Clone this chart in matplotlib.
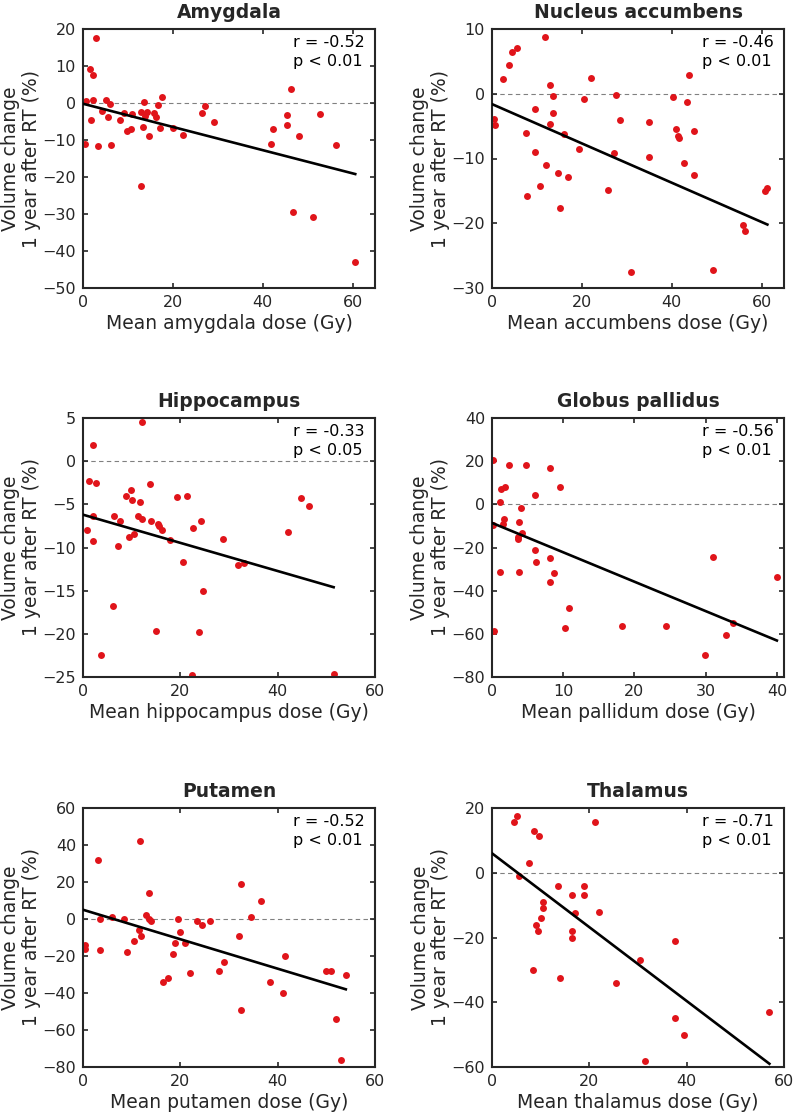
import matplotlib
matplotlib.use("Agg")
import matplotlib.pyplot as plt
import numpy as np

plt.rcParams['font.family'] = ['DejaVu Sans']

# panel titles and x labels
titles = ["Amygdala", "Nucleus accumbens", "Hippocampus",
          "Globus pallidus", "Putamen", "Thalamus"]
xlabels = ["Mean amygdala dose (Gy)", "Mean accumbens dose (Gy)",
           "Mean hippocampus dose (Gy)", "Mean pallidum dose (Gy)",
           "Mean putamen dose (Gy)", "Mean thalamus dose (Gy)"]
stats_r = ["-0.52", "-0.46", "-0.33", "-0.56", "-0.52", "-0.71"]
stats_p = ["0.01", "0.01", "0.05", "0.01", "0.01", "0.01"]

# Amygdala
amyg_dose = [2.8, 1.5, 2.2, 0.7, 2.3, 0.4, 1.8, 3.4, 4.3, 5.2, 5.6, 6.0, 6.3,
             8.3, 9.2, 10.8, 9.8, 10.6, 12.8, 12.8, 13.6, 13.7, 14.2, 13.3,
             14.6, 15.7, 16.2, 16.7, 17.6, 17.1, 20.1, 22.3, 26.6, 27.1, 29.2,
             41.8, 42.4, 45.3, 45.3, 46.4, 46.8, 48.0, 51.3, 52.8, 56.3, 60.6]
amyg_change = [17.6, 9.3, 7.5, 0.6, 0.7, -11.2, -4.7, -11.6, -2.2, 0.7, -3.9,
               -0.3, -11.4, -4.5, -2.8, -3.1, -7.5, -6.9, -22.3, -2.4, 0.2,
               -3.4, -2.5, -6.4, -8.9, -2.7, -3.9, -0.6, 1.6, -6.8, -6.8, -8.7,
               -2.7, -0.8, -5.0, -11.2, -7.0, -5.9, -3.3, 3.8, -29.5, -8.9,
               -30.8, -3.1, -11.3, -43.1]

# Nucleus accumbens
accu_dose = [0.45, 0.6, 2.5, 3.7, 4.5, 5.5, 7.5, 7.9, 9.5, 9.6, 10.7, 11.8,
             12.0, 12.8, 13.0, 13.5, 13.6, 14.6, 15.1, 16.1, 17.0, 19.3, 20.4,
             22.1, 25.8, 27.1, 27.7, 28.6, 30.9, 35.0, 35.0, 40.3, 40.9, 41.3,
             41.7, 42.7, 43.3, 43.9, 44.9, 45.0, 49.1, 55.8, 56.4, 60.7, 61.3]
accu_change = [-3.9, -4.9, 2.3, 4.4, 6.4, 7.0, -6.1, -15.8, -9.0, -2.4, -14.2,
               8.8, -11.0, -4.6, 1.4, -0.3, -3.0, -12.3, -17.7, -6.2, -12.8,
               -8.5, -0.8, 2.4, -14.8, -9.1, -0.2, -4.1, -27.6, -4.4, -9.8,
               -0.5, -5.4, -6.5, -6.9, -10.7, -1.3, 2.9, -5.7, -12.6, -27.2,
               -20.2, -21.2, -15.0, -14.6]

# Hippocampus
hipp_dose = [12.2, 2.1, 1.3, 2.7, 0.8, 2.1, 2.0, 6.3, 7.1, 7.7, 8.8, 9.9, 10.1,
             9.4, 10.4, 11.7, 11.3, 12.2, 13.7, 14.0, 15.4, 15.7, 16.2, 17.9,
             19.4, 21.4, 22.7, 24.3, 20.5, 28.7, 31.8, 33.0, 42.2, 44.7, 46.5,
             6.1, 24.7, 3.6, 15.1, 23.9, 22.4, 51.5]
hipp_change = [4.5, 1.9, -2.3, -2.5, -8.0, -6.4, -9.2, -6.4, -9.8, -6.9, -4.0,
               -3.3, -4.5, -8.8, -8.4, -4.7, -6.4, -6.7, -2.7, -6.9, -7.3, -7.5,
               -8.0, -9.1, -4.2, -4.0, -7.7, -6.9, -11.7, -9.0, -12.0, -11.8,
               -8.2, -4.3, -5.2, -16.8, -15.0, -22.4, -19.7, -19.8, -24.8,
               -24.6]

# Globus pallidus
pall_dose = [0.1, 2.4, 4.8, 8.1, 1.2, 1.8, 9.6, 6.0, 1.1, 4.1, 1.7, 1.6, 3.8,
             0.1, 4.2, 3.7, 3.6, 6.1, 6.2, 8.2, 31.1, 1.1, 3.8, 8.7, 40.0,
             0.3, 8.1, 10.8, 10.2, 18.2, 24.4, 29.9, 32.9, 33.9]
pall_change = [20.6, 18.2, 18.2, 16.8, 7.1, 7.8, 8.0, 4.5, 1.2, -1.5, -6.9,
               -8.9, -8.0, -9.5, -13.5, -15.1, -16.2, -21.2, -26.6, -24.8,
               -24.6, -31.2, -31.2, -31.8, -33.6, -58.9, -36.2, -48.1, -57.4,
               -56.2, -56.6, -70.0, -60.5, -55.2]

# Putamen
puta_dose = [0.5, 0.5, 3.0, 3.5, 3.5, 6.0, 8.5, 9.0, 10.5, 11.7, 11.5, 12.0,
             13.0, 13.5, 13.5, 14.0, 16.5, 17.5, 18.5, 19.0, 19.5, 20.0, 21.0,
             22.0, 23.5, 24.5, 26.0, 28.0, 29.0, 32.0, 32.5, 32.5, 34.5, 36.5,
             38.5, 41.0, 41.5, 50.0, 51.0, 52.0, 53.0, 54.0]
puta_change = [-14, -16, 32, 0, -17, 1, 0, -18, -12, 42.2, -6, -9, 2, 14, 0,
               -1, -34, -32, -19, -13, 0, -7, -13, -29, -1, -3, -1, -28, -23,
               -9, 19, -49, 1, 10, -34, -40, -20, -28, -28, -54, -76, -30]

# Thalamus
thal_dose = [4.6, 5.2, 5.5, 7.5, 8.7, 9.7, 8.5, 9.0, 9.5, 10.0, 10.5, 10.5,
             13.5, 14.0, 16.5, 17.0, 16.5, 16.5, 19.0, 19.0, 21.1, 22.0, 25.5,
             30.5, 31.5, 37.5, 37.5, 39.5, 57.0]
thal_change = [15.6, 17.5, -1, 3, 12.8, 11.2, -30, -16, -18, -14, -11, -9, -4,
               -32.5, -7, -12.5, -18, -20, -4, -7, 15.7, -12, -34, -27, -58,
               -45, -21, -50, -43]

# regression line values at dose 0 and at the highest dose
fit_start = [-0.2, -1.6, -6.2, -8.6, 5.0, 6.0]
fit_end = [-19.2, -20.2, -14.6, -63.1, -38.0, -59.0]

doses = [amyg_dose, accu_dose, hipp_dose, pall_dose, puta_dose, thal_dose]
changes = [amyg_change, accu_change, hipp_change, pall_change, puta_change,
           thal_change]
xlims = [(0, 65), (0, 65), (0, 60), (0, 41), (0, 60), (0, 60)]
xticks = [[0, 20, 40, 60], [0, 20, 40, 60], [0, 20, 40, 60],
          [0, 10, 20, 30, 40], [0, 20, 40, 60], [0, 20, 40, 60]]
ylims = [(-50, 20), (-30, 10), (-25, 5), (-80, 40), (-80, 60), (-60, 20)]
ysteps = [10, 10, 5, 20, 20, 20]

ink = '#262626'
red = '#e0141a'

fig = plt.figure(figsize=(7.94, 11.17), dpi=100)
lefts = [83 / 794, 492 / 794]
bottoms = [1 - 288 / 1117, 1 - 677 / 1117, 1 - 1067 / 1117]
w, h = 292 / 794, 259 / 1117

for i in range(6):
    ax = fig.add_axes([lefts[i % 2], bottoms[i // 2], w, h])
    x = np.array(doses[i])
    y = np.array(changes[i])
    ax.axhline(0, color='#808080', lw=0.8, ls=(0, (4, 3)), zorder=1)
    ax.plot(x, y, 'o', color=red, ms=5, mec='none', zorder=2)
    ax.plot([0, x.max()], [fit_start[i], fit_end[i]], color='black', lw=1.9,
            zorder=3)
    ax.set_xlim(*xlims[i])
    ax.set_ylim(*ylims[i])
    ax.set_xticks(xticks[i])
    ax.set_yticks(np.arange(ylims[i][0], ylims[i][1] + 1, ysteps[i]))
    ax.tick_params(direction='in', length=3.5, width=1.2, top=True, right=True,
                   labelsize=11.5, colors=ink, pad=5)
    for s in ax.spines.values():
        s.set_linewidth(1.5)
        s.set_color(ink)
    ax.set_title(titles[i], fontsize=13.5, fontweight='bold', color=ink, pad=8)
    ax.set_xlabel(xlabels[i], fontsize=13.5, color=ink, labelpad=3)
    ax.set_ylabel("Volume change\n1 year after RT (%)", fontsize=13.5,
                  color=ink, labelpad=1, linespacing=1.1)
    ax.text(0.965, 0.975, f"r = {stats_r[i]}\np < {stats_p[i]}",
            transform=ax.transAxes, ha='right', va='top', multialignment='left',
            fontsize=11.5, color='black', linespacing=1.3)

fig.savefig("out.png", dpi=100)
